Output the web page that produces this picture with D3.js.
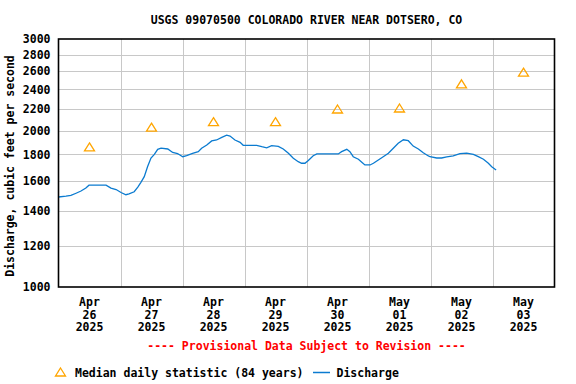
<!DOCTYPE html>
<html>
<head>
<meta charset="utf-8">
<script src="https://cdn.jsdelivr.net/npm/d3@7"></script>
<style>
  html, body { margin: 0; padding: 0; background: #fff; }
  svg text { font-family: "DejaVu Sans Mono", "Liberation Mono", monospace; font-weight: bold; }
</style>
</head>
<body>
<svg id="chart" width="576" height="384"></svg>
<script>
// ---- Data ----
const title = "USGS 09070500 COLORADO RIVER NEAR DOTSERO, CO";
const yLabel = "Discharge, cubic feet per second";
const yTicks = [1000, 1200, 1400, 1600, 1800, 2000, 2200, 2400, 2600, 2800, 3000];
const dayLabels = [
  ["Apr", "26", "2025"], ["Apr", "27", "2025"], ["Apr", "28", "2025"], ["Apr", "29", "2025"],
  ["Apr", "30", "2025"], ["May", "01", "2025"], ["May", "02", "2025"], ["May", "03", "2025"]
];
const medianDays = ["2025-04-26", "2025-04-27", "2025-04-28", "2025-04-29", "2025-04-30", "2025-05-01", "2025-05-02", "2025-05-03"];
const medianValues = [1860, 2030, 2080, 2080, 2200, 2210, 2460, 2590];
// hours since 2025-04-26 00:00
const dischargeHours = [0, 2.9, 4.8, 6.8, 8.7, 10.6, 11.8, 18.4, 20.3, 22.3, 24.2, 26.1, 27.3, 29.3, 30.7, 31.9, 33.2, 34.5, 35.8, 37.1, 38.4, 39.7, 42.3, 44.2, 46.1, 47.0, 48.1, 49.6, 51.9, 54.1, 55.4, 57.4, 59.3, 61.2, 63.2, 65.1, 66.4, 68.3, 70.3, 71.5, 76.7, 78.7, 80.6, 82.5, 85.1, 87.0, 89.0, 90.9, 92.8, 94.1, 95.4, 96.7, 98.6, 100.0, 108.3, 109.6, 111.6, 112.8, 114.1, 116.1, 117.4, 118.6, 120.6, 121.9, 123.8, 125.7, 127.7, 129.6, 131.5, 133.5, 135.4, 137.3, 139.3, 141.2, 143.2, 143.8, 146.4, 148.3, 150.3, 152.8, 155.4, 158.0, 160.6, 162.5, 164.5, 166.4, 167.7, 169.4];
const dischargeValues = [1490, 1495, 1500, 1515, 1530, 1550, 1570, 1570, 1550, 1540, 1520, 1505, 1510, 1525, 1557, 1590, 1630, 1705, 1770, 1800, 1840, 1850, 1843, 1815, 1805, 1795, 1781, 1789, 1808, 1821, 1849, 1876, 1910, 1918, 1940, 1960, 1952, 1918, 1898, 1873, 1873, 1862, 1853, 1870, 1865, 1843, 1808, 1769, 1742, 1730, 1730, 1752, 1789, 1803, 1803, 1821, 1840, 1821, 1781, 1761, 1738, 1717, 1717, 1730, 1755, 1781, 1808, 1849, 1890, 1920, 1912, 1867, 1843, 1813, 1787, 1781, 1771, 1771, 1779, 1787, 1805, 1810, 1800, 1781, 1761, 1730, 1704, 1679];

// ---- Layout ----
const svg = d3.select("#chart");
const L = 58.5, R = 554.5, T = 39, B = 287;
const start = new Date(2025, 3, 26, 0, 0);
const end = new Date(2025, 4, 4, 0, 0);
const x = d3.scaleTime().domain([start, end]).range([L, R]);
const y = d3.scaleLog().domain([1000, 3000]).range([B, T]);
const FS = "11.5px";
const lineColor = "#0b7bd0";
const triColor = "#ffa500";

// gridlines horizontal
svg.append("g").selectAll("line").data(yTicks.slice(1, -1)).join("line")
  .attr("x1", L).attr("x2", R)
  .attr("y1", d => Math.round(y(d)) + 0.5).attr("y2", d => Math.round(y(d)) + 0.5)
  .attr("stroke", "#c8c8c8").attr("stroke-width", 1);

// gridlines vertical (day boundaries)
const dayBounds = d3.timeDay.range(d3.timeDay.offset(start, 1), end);
svg.append("g").selectAll("line").data(dayBounds).join("line")
  .attr("x1", d => Math.round(x(d)) + 0.5).attr("x2", d => Math.round(x(d)) + 0.5)
  .attr("y1", T).attr("y2", B)
  .attr("stroke", "#c8c8c8").attr("stroke-width", 1);

// discharge line
const pts = dischargeHours.map((h, i) => ({ t: d3.timeMinute.offset(start, Math.round(h * 60)), v: dischargeValues[i] }));
svg.append("path").datum(pts)
  .attr("d", d3.line().x(d => x(d.t)).y(d => y(d.v)))
  .attr("fill", "none").attr("stroke", lineColor).attr("stroke-width", 1.3);

// median triangles
const tri = "M0,-4L5,4L-5,4Z";
const parseDay = d3.timeParse("%Y-%m-%d");
svg.append("g").selectAll("path").data(medianDays).join("path")
  .attr("d", tri)
  .attr("transform", (d, i) => `translate(${x(d3.timeHour.offset(parseDay(d), 12))},${y(medianValues[i])})`)
  .attr("fill", "none").attr("stroke", triColor).attr("stroke-width", 1.3);

// frame
svg.append("rect").attr("x", L).attr("y", T).attr("width", R - L).attr("height", B - T)
  .attr("fill", "none").attr("stroke", "#000").attr("stroke-width", 1.6);

// y axis tick labels
const yAxis = d3.axisLeft(y).tickValues(yTicks).tickFormat(d3.format("d")).tickSize(0).tickPadding(8);
const ya = svg.append("g").attr("transform", `translate(${L},0)`).call(yAxis);
ya.select(".domain").remove();
ya.selectAll("text").attr("font-size", FS).attr("fill", "#000")
  .style("font-family", "'DejaVu Sans Mono', monospace").style("font-weight", "bold");

// x labels
const days = d3.timeDay.range(start, end);
const xl = svg.append("g");
days.forEach((d, i) => {
  const cx = x(d3.timeHour.offset(d, 12));
  dayLabels[i].forEach((s, j) => {
    xl.append("text").attr("x", cx).attr("y", 306 + j * 12.5)
      .attr("text-anchor", "middle").attr("font-size", FS).text(s);
  });
});

// title
svg.append("text").attr("x", (L + R) / 2).attr("y", 24).attr("text-anchor", "middle")
  .attr("font-size", FS).text(title);

// y label
svg.append("text").attr("transform", `translate(14,${(T + B) / 2 + 3}) rotate(-90)`)
  .attr("text-anchor", "middle").attr("font-size", FS).text(yLabel);

// provisional
svg.append("text").attr("x", (L + R) / 2).attr("y", 350).attr("text-anchor", "middle")
  .attr("font-size", FS).attr("fill", "#ff0000").text("---- Provisional Data Subject to Revision ----");

// legend
svg.append("path").attr("d", tri).attr("transform", "translate(60.5,372)")
  .attr("fill", "none").attr("stroke", triColor).attr("stroke-width", 1.3);
svg.append("text").attr("x", 75).attr("y", 377).attr("font-size", FS).text("Median daily statistic (84 years)");
svg.append("line").attr("x1", 313).attr("x2", 330).attr("y1", 372.5).attr("y2", 372.5)
  .attr("stroke", lineColor).attr("stroke-width", 1.5);
svg.append("text").attr("x", 336.5).attr("y", 377).attr("font-size", FS).text("Discharge");
</script>
</body>
</html>
